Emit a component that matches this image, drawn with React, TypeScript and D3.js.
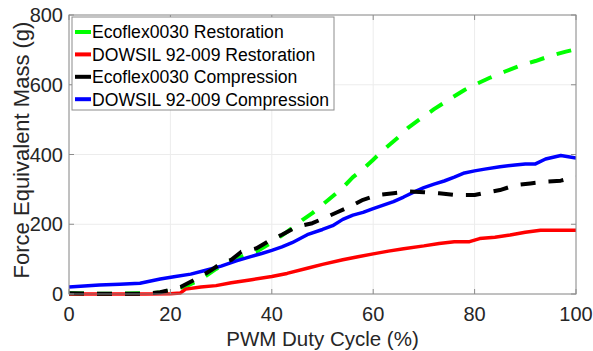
import React from "react";
import * as d3 from "d3";

// Duty cycle (%) and force-equivalent mass (g) for each test series
const ecoRestX = [0, 5, 10, 15, 18, 20, 23, 26, 29, 32, 35, 37, 40, 43, 46, 48, 51, 54, 56, 58, 60, 62, 65, 67, 69, 72, 75, 78, 80, 83, 86, 89, 92, 95, 98, 100];
const ecoRestY = [2, 1, 1, 2, 4, 10, 22, 42, 72, 96, 113, 122, 148, 178, 212, 232, 268, 305, 335, 358, 385, 413, 450, 478, 499, 530, 558, 585, 600, 620, 638, 655, 668, 683, 695, 702];

const dowRestX = [0, 5, 10, 15, 20, 22, 23, 26, 29, 32, 36, 40, 43, 47, 50, 54, 57, 60, 63, 66, 70, 73, 76, 79, 81, 84, 87, 90, 93, 100];
const dowRestY = [0, 0, 0, 0, 1, 3, 14, 20, 24, 32, 41, 50, 59, 74, 85, 98, 107, 115, 123, 130, 138, 145, 150, 150, 159, 163, 169, 177, 183, 183];

const ecoCompX = [0, 5, 10, 15, 18, 20, 22, 24, 26, 28, 30, 32, 34, 37, 40, 42, 45, 48, 51, 53, 56, 58, 61, 64, 67, 70, 73, 76, 80, 82, 85, 88, 91, 94, 97, 100];
const ecoCompY = [2, 1, 1, 1, 5, 12, 20, 35, 50, 68, 88, 98, 121, 131, 157, 170, 193, 203, 222, 235, 255, 270, 284, 289, 294, 292, 289, 284, 284, 290, 298, 312, 317, 322, 325, 336];

const dowCompX = [0, 3, 6, 10, 14, 18, 21, 24, 27, 30, 33, 36, 38, 40, 42, 44, 47, 50, 52, 54, 56, 58, 60, 62, 64, 66, 68, 70, 72, 74, 76, 78, 80, 82, 85, 88, 90, 92, 94, 97, 100];
const dowCompY = [20, 23, 26, 28, 31, 43, 50, 57, 68, 80, 95, 108, 116, 125, 135, 147, 170, 185, 196, 214, 226, 234, 245, 255, 265, 278, 292, 305, 315, 324, 335, 347, 353, 358, 365, 370, 373, 373, 387, 397, 390];

const seriesNames = [
  "Ecoflex0030 Restoration",
  "DOWSIL 92-009 Restoration",
  "Ecoflex0030 Compression",
  "DOWSIL 92-009 Compression",
];
const seriesColors = ["#00ff00", "#ff0000", "#000000", "#0000ff"];
const seriesDashed = [true, false, true, false];

const xTicks = [0, 20, 40, 60, 80, 100];
const yTicks = [0, 200, 400, 600, 800];

const W = 593;
const H = 351;
const M = { left: 69, right: 576, top: 15, bottom: 294 };
const FONT = "'Liberation Sans', Arial, Helvetica, sans-serif";

export default function App() {
  const x = d3.scaleLinear().domain([0, 100]).range([M.left, M.right]);
  const y = d3.scaleLinear().domain([0, 800]).range([M.bottom, M.top]);

  const series = [
    { xs: ecoRestX, ys: ecoRestY },
    { xs: dowRestX, ys: dowRestY },
    { xs: ecoCompX, ys: ecoCompY },
    { xs: dowCompX, ys: dowCompY },
  ];

  const line = d3
    .line<[number, number]>()
    .x((d) => x(d[0]))
    .y((d) => y(d[1]));

  // draw blue before black so the dashed compression curve sits on top
  const drawOrder = [0, 1, 3, 2];

  const axisColor = "#8c8c8c";
  const textColor = "#262626";
  const tickLen = 5;

  return (
    <svg
      width={W}
      height={H}
      style={{ position: "absolute", left: 0, top: 0, background: "#fff" }}
      fontFamily={FONT}
    >
      <rect x={0} y={0} width={W} height={H} fill="#fff" />
      {/* grid */}
      {xTicks.map((t) => (
        <line key={"gx" + t} x1={x(t)} x2={x(t)} y1={M.top} y2={M.bottom} stroke="#ececec" strokeWidth={1} />
      ))}
      {yTicks.map((t) => (
        <line key={"gy" + t} x1={M.left} x2={M.right} y1={y(t)} y2={y(t)} stroke="#ececec" strokeWidth={1} />
      ))}

      {/* data */}
      <defs>
        <clipPath id="plotClip">
          <rect x={M.left} y={M.top - 3} width={M.right - M.left} height={M.bottom - M.top + 6} />
        </clipPath>
      </defs>
      <g clipPath="url(#plotClip)">
        {drawOrder.map((i) => {
          const s = series[i];
          const pts = s.xs.map((v, k) => [v, s.ys[k]] as [number, number]);
          return (
            <path
              key={"s" + i}
              d={line(pts) || ""}
              fill="none"
              stroke={seriesColors[i]}
              strokeWidth={seriesDashed[i] ? 4 : 3.5}
              strokeDasharray={seriesDashed[i] ? "15,13" : undefined}
              strokeLinejoin="round"
            />
          );
        })}
      </g>

      {/* box */}
      <rect
        x={M.left}
        y={M.top}
        width={M.right - M.left}
        height={M.bottom - M.top}
        fill="none"
        stroke={axisColor}
        strokeWidth={1}
      />
      {/* ticks */}
      {xTicks.map((t) => (
        <g key={"tx" + t}>
          <line x1={x(t)} x2={x(t)} y1={M.bottom} y2={M.bottom - tickLen} stroke={axisColor} />
          <line x1={x(t)} x2={x(t)} y1={M.top} y2={M.top + tickLen} stroke={axisColor} />
          <text x={x(t)} y={321} textAnchor="middle" fontSize={20} fill={textColor}>
            {t}
          </text>
        </g>
      ))}
      {yTicks.map((t) => (
        <g key={"ty" + t}>
          <line x1={M.left} x2={M.left + tickLen} y1={y(t)} y2={y(t)} stroke={axisColor} />
          <line x1={M.right} x2={M.right - tickLen} y1={y(t)} y2={y(t)} stroke={axisColor} />
          <text x={63} y={y(t) + 7} textAnchor="end" fontSize={20} fill={textColor}>
            {t}
          </text>
        </g>
      ))}

      {/* axis labels */}
      <text x={(M.left + M.right) / 2} y={346} textAnchor="middle" fontSize={20.5} fill={textColor}>
        PWM Duty Cycle (%)
      </text>
      <text
        transform={`translate(29, ${150}) rotate(-90)`}
        textAnchor="middle"
        fontSize={22}
        fill={textColor}
      >
        Force Equivalent Mass (g)
      </text>

      {/* legend */}
      <rect x={72} y={17} width={262} height={93} fill="#fff" stroke={axisColor} strokeWidth={1} />
      {seriesNames.map((name, i) => {
        const cy = 32 + i * 22.4;
        return (
          <g key={"lg" + i}>
            <line x1={75} x2={91} y1={cy} y2={cy} stroke={seriesColors[i]} strokeWidth={4} />
            <text x={92} y={cy + 6.3} fontSize={17.6} fill="#000">
              {name}
            </text>
          </g>
        );
      })}
    </svg>
  );
}
